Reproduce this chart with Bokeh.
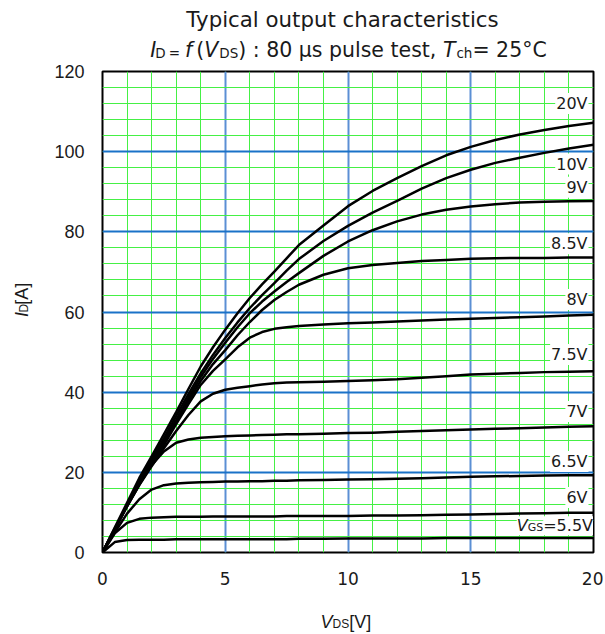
import math
from bokeh.plotting import figure
from bokeh.models import Range1d, FixedTicker, Label, ColumnDataSource
from bokeh.layouts import column, row
from bokeh.core.properties import value
from bokeh.embed import file_html
from bokeh.resources import INLINE

# ---------------- data ----------------
vds = [0, 0.5, 1, 1.5, 2, 2.5, 3, 3.5, 4, 4.5, 5, 5.5, 6, 6.5, 7, 7.5, 8, 9, 10,
       11, 12, 13, 14, 15, 16, 17, 18, 19, 20]

id_20v = [0, 6.2, 12.4, 18.6, 24.0, 29.5, 35.0, 40.8, 46.4, 51.2, 55.6, 59.7, 63.5, 66.9, 70.1, 73.4, 76.7, 81.6, 86.4,
          90.2, 93.4, 96.4, 99.1, 101.2, 102.9, 104.3, 105.4, 106.4, 107.2]
id_10v = [0, 6.0, 12.0, 18.0, 23.3, 28.5, 34.0, 39.5, 44.7, 49.3, 53.5, 57.4, 61.0, 64.2, 67.2, 70.3, 73.2, 77.7, 81.5,
          84.8, 87.7, 90.8, 93.4, 95.5, 97.2, 98.5, 99.7, 100.8, 101.7]
id_9v = [0, 5.9, 11.8, 17.6, 23.0, 28.0, 33.0, 38.6, 43.8, 48.3, 52.3, 56.2, 59.7, 62.6, 65.1, 67.5, 69.7, 74.0, 77.6,
         80.4, 82.6, 84.3, 85.5, 86.3, 86.9, 87.3, 87.5, 87.6, 87.7]
id_8v5 = [0, 5.9, 11.7, 17.3, 22.5, 27.3, 32.5, 37.8, 42.8, 47.0, 50.5, 54.2, 57.5, 60.5, 63.0, 65.0, 66.8, 69.3, 70.9,
          71.7, 72.2, 72.7, 73.0, 73.3, 73.4, 73.5, 73.5, 73.6, 73.6]
id_8v = [0, 5.8, 11.6, 17.0, 22.0, 26.8, 32.0, 37.0, 41.8, 45.3, 48.2, 51.2, 53.6, 55.0, 55.8, 56.2, 56.5, 56.9, 57.2,
         57.4, 57.6, 57.9, 58.1, 58.3, 58.5, 58.7, 58.9, 59.1, 59.3]
id_7v5 = [0, 5.8, 11.5, 16.8, 21.5, 26.0, 30.3, 34.3, 37.7, 39.6, 40.6, 41.1, 41.5, 41.9, 42.2, 42.4, 42.5, 42.6, 42.8,
          43.0, 43.2, 43.6, 44.0, 44.4, 44.6, 44.8, 45.0, 45.1, 45.2]
id_7v = [0, 5.8, 11.5, 17.0, 21.8, 25.2, 27.4, 28.2, 28.6, 28.8, 29.0, 29.1, 29.2, 29.3, 29.4, 29.5, 29.5, 29.6, 29.8,
         29.9, 30.1, 30.3, 30.5, 30.7, 30.9, 31.0, 31.2, 31.4, 31.5]
id_6v5 = [0, 5.0, 9.7, 13.3, 15.7, 16.8, 17.2, 17.4, 17.5, 17.6, 17.7, 17.7, 17.8, 17.8, 17.9, 17.9, 18.0, 18.1, 18.2,
          18.3, 18.4, 18.5, 18.7, 18.9, 19.0, 19.1, 19.2, 19.3, 19.3]
id_6v = [0, 4.8, 7.4, 8.4, 8.7, 8.8, 8.9, 8.9, 8.9, 9.0, 9.0, 9.0, 9.0, 9.0, 9.0, 9.1, 9.1, 9.1, 9.1,
         9.2, 9.2, 9.3, 9.4, 9.5, 9.6, 9.7, 9.8, 9.9, 9.9]
id_5v5 = [0, 2.6, 3.1, 3.2, 3.2, 3.2, 3.3, 3.3, 3.3, 3.3, 3.3, 3.3, 3.3, 3.3, 3.3, 3.3, 3.4, 3.4, 3.5,
          3.5, 3.5, 3.5, 3.6, 3.6, 3.6, 3.6, 3.6, 3.6, 3.6]

curve_labels = ["20V", "10V", "9V", "8.5V", "8V", "7.5V", "7V", "6.5V", "6V"]
curve_label_y = [112.0, 96.9, 91.1, 77.0, 63.1, 49.4, 35.2, 22.7, 13.7]
vgs_label_value = "=5.5V"
vgs_label_y = 6.7

x_ticks = [0, 5, 10, 15, 20]
x_minor = list(range(0, 21))
y_ticks = [0, 20, 40, 60, 80, 100, 120]
y_minor = list(range(0, 121, 4))

title_1 = "Typical output characteristics"

# ---------------- layout (page pixel targets) ----------------
PAGE_W = 603
FRAME_L, FRAME_R, FRAME_T, FRAME_B = 102, 593, 71, 552
TITLE_H = 62
TOP_PAD = FRAME_T - TITLE_H      # main canvas above the frame (room for the "120" label)
YLAB_W = 40
MAIN_H = 526 + TOP_PAD
ROW_TOP = TITLE_H
XLAB_TOP = ROW_TOP + MAIN_H
XLAB_H = 634 - XLAB_TOP

FONT = "DejaVu Sans"
AFONT = "Liberation Sans"
TXT = "#1a1a1a"
MID = 0.346   # em distance between baseline and box middle

# DejaVu Sans advance widths (em)
W = {' ': 0.318, '(': 0.390, ')': 0.390, ':': 0.337, '=': 0.838, ',': 0.318, '.': 0.318,
     '°': 0.500, 'μ': 0.636, 'C': 0.698, 'D': 0.770, 'G': 0.775, 'I': 0.295, 'S': 0.635,
     'T': 0.611, 'V': 0.684, 'c': 0.550, 'e': 0.615, 'f': 0.352, 'h': 0.634, 'l': 0.278,
     'p': 0.635, 's': 0.521, 't': 0.392, 'u': 0.634, '[': 0.390, ']': 0.390, 'A': 0.684}
for d in "0123456789":
    W[d] = 0.636
# Liberation Sans advance widths (em)
WA = {' ': 0.278, '[': 0.278, ']': 0.278, 'A': 0.667, 'V': 0.667, 'D': 0.722, 'S': 0.667, 'I': 0.278}

def tw(s, size, table=W):
    return sum(table.get(ch, 0.6) for ch in s) * size


def text_fig(w, h):
    f = figure(width=w, height=h, x_range=Range1d(0, w), y_range=Range1d(h, 0), title=None,
               x_axis_type=None, y_axis_type=None, toolbar_location=None,
               output_backend="svg", min_border=0)
    f.outline_line_color = None
    f.background_fill_color = "white"
    f.border_fill_color = "white"
    f.grid.visible = False
    return f

# ---- title figure ----
tf = text_fig(PAGE_W, TITLE_H)
BIG, SMALL = 20.5, 13.5
# (text, font size, style, gap before in px)
pieces = [("I", BIG, "italic", 0), ("D", SMALL, "normal", -1), ("=", SMALL, "normal", 3),
          ("f", BIG, "italic", 5), ("(", BIG, "normal", 4), ("V", BIG, "italic", 0),
          ("DS", SMALL, "normal", 1), (") : 80 μs pulse test, ", BIG, "normal", 0),
          ("T", BIG, "italic", 0), ("ch", SMALL, "normal", 1), ("= 25°C", BIG, "normal", 0)]
total = sum(tw(t, s) + g for t, s, _, g in pieces)
cur = 348 - total / 2
L2_MID = 49.8
xs, ys, ts, sz, stl, al = [342], [19.2], [title_1], ["21.3px"], ["normal"], ["center"]
for t, s, st, g in pieces:
    cur += g
    xs.append(cur); ys.append(L2_MID + MID * (BIG - s)); ts.append(t)
    sz.append(f"{s}px"); stl.append(st); al.append("left")
    cur += tw(t, s)
tf.text(x="x", y="y", text="t", source=ColumnDataSource(dict(x=xs, y=ys, t=ts, s=sz, st=stl, a=al)),
        text_font=value(FONT), text_font_size="s", text_font_style="st", text_align="a",
        text_baseline="middle", text_color=TXT)

# ---- y label figure (rotated) ----
yf = text_fig(YLAB_W, MAIN_H)
xs, ys, ts, sz, stl = [], [], [], [], []
cur = 335 - ROW_TOP
for t, s, st in [("I", 18, "italic"), ("D", 12, "normal"), (" [A]", 18, "normal")]:
    xs.append(21 + MID * (18 - s)); ys.append(cur); ts.append(t); sz.append(f"{s}px"); stl.append(st)
    cur -= tw(t, s, WA)
yf.text(x="x", y="y", text="t", source=ColumnDataSource(dict(x=xs, y=ys, t=ts, s=sz, st=stl)),
        text_font=value(AFONT), text_font_size="s", text_font_style="st", text_align="left",
        text_baseline="middle", angle=math.pi / 2, text_color=TXT)

# ---- x label figure ----
xf = text_fig(PAGE_W, XLAB_H)
xs, ys, ts, sz, stl = [], [], [], [], []
cur = 320
for t, s, st in [("V", 18, "italic"), ("DS", 12, "normal"), (" [V]", 18, "normal")]:
    xs.append(cur); ys.append(621 - XLAB_TOP + MID * (18 - s)); ts.append(t)
    sz.append(f"{s}px"); stl.append(st)
    cur += tw(t, s, WA)
xf.text(x="x", y="y", text="t", source=ColumnDataSource(dict(x=xs, y=ys, t=ts, s=sz, st=stl)),
        text_font=value(AFONT), text_font_size="s", text_font_style="st", text_align="left",
        text_baseline="middle", text_color=TXT)

# ---- main chart ----
main_w = PAGE_W - YLAB_W
p = figure(width=main_w, height=MAIN_H, x_range=Range1d(0, 20), y_range=Range1d(0, 120),
           title=None, output_backend="svg", toolbar_location=None,
           min_border_left=FRAME_L - YLAB_W, min_border_right=PAGE_W - FRAME_R,
           min_border_top=TOP_PAD, min_border_bottom=XLAB_TOP - FRAME_B)
p.background_fill_color = "white"
p.border_fill_color = "white"
p.outline_line_color = "black"
p.outline_line_width = 2

xt = FixedTicker(ticks=x_ticks, minor_ticks=x_minor)
yt = FixedTicker(ticks=y_ticks, minor_ticks=y_minor)
p.xaxis.ticker = xt
p.yaxis.ticker = yt
p.xgrid.ticker = xt
p.ygrid.ticker = yt

p.xgrid.grid_line_color = "#5b8fd4"
p.xgrid.grid_line_width = 2
p.ygrid.grid_line_color = "#1a72c8"
p.ygrid.grid_line_width = 2
for g in (p.xgrid, p.ygrid):
    g.minor_grid_line_color = "#45f045"
    g.minor_grid_line_width = 1

for ax in (p.xaxis, p.yaxis):
    ax.axis_line_color = None
    ax.major_tick_line_color = None
    ax.minor_tick_line_color = None
    ax.major_label_text_color = TXT

p.xaxis.major_label_text_font = FONT
p.xaxis.major_label_text_font_size = "17px"
p.xaxis.major_label_standoff = 13
p.yaxis.major_label_text_font = AFONT
p.yaxis.major_label_text_font_size = "18px"
p.yaxis.major_label_standoff = 12

curves = [id_20v, id_10v, id_9v, id_8v5, id_8v, id_7v5, id_7v, id_6v5, id_6v, id_5v5]
for c in curves:
    p.line(vds, c, line_color="black", line_width=2.5, line_join="round")

SX = (FRAME_R - FRAME_L) / 20.0
def dx(px):
    return (px - FRAME_L) / SX

# curve labels
lab_x = dx(588)
src = ColumnDataSource(dict(x=[lab_x] * len(curve_labels), y=curve_label_y, t=curve_labels))
p.text(x="x", y="y", text="t", source=src, text_font=value(FONT), text_font_size="16px",
       text_align="right", text_baseline="middle", text_color=TXT,
       background_fill_color="white", padding=1)

# VGS=5.5V label
vx = dx(592.5)
w1 = tw(vgs_label_value, 16)
w2 = tw("GS", 11)
for txt, size, style, off in [(vgs_label_value, 16, "normal", 0),
                              ("GS", 11, "normal", -w1),
                              ("V", 16, "italic", -w1 - w2)]:
    p.add_layout(Label(x=vx, y=vgs_label_y, text=txt, x_offset=off,
                       y_offset=-MID * (16 - size),
                       text_font=FONT, text_font_size=f"{size}px", text_font_style=style,
                       text_align="right", text_baseline="middle", text_color=TXT,
                       background_fill_color="white"))

layout = column(tf, row(yf, p), xf)
open("out.html", "w").write(file_html(layout, INLINE))
